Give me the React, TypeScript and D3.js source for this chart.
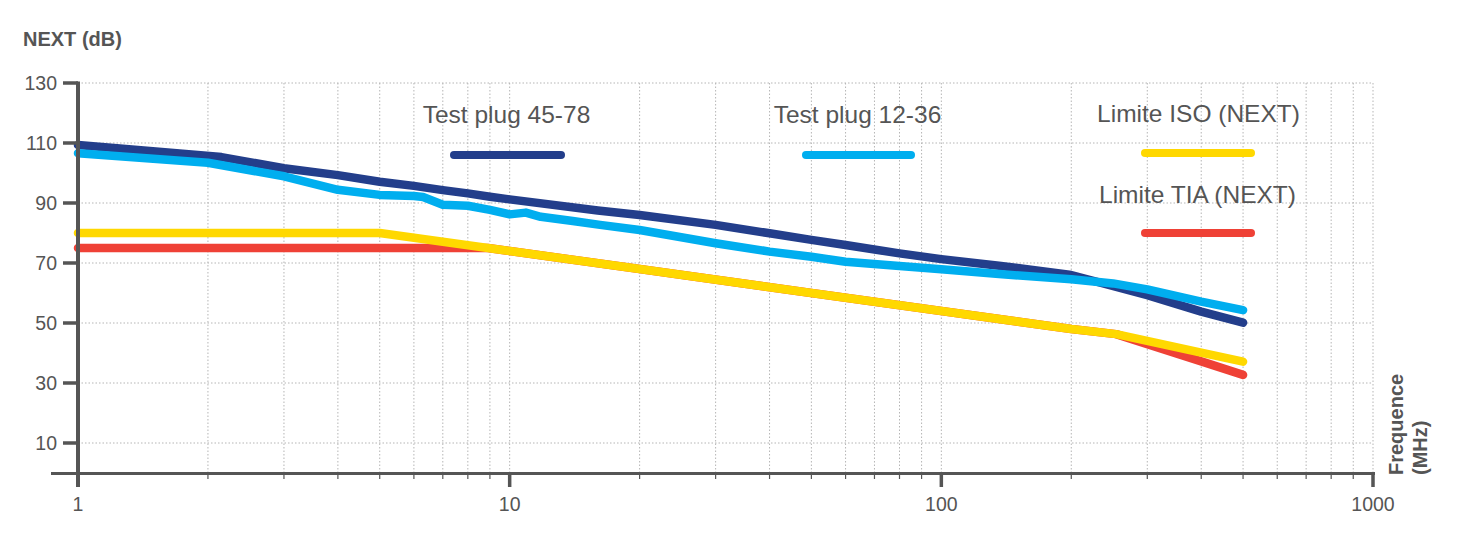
import React from "react";
import * as d3 from "d3";

const W = 1469;
const H = 533;

// Frequencies (MHz) and NEXT values (dB)
const plug4578F = [1, 2.15, 3, 4, 5, 6, 7, 8, 9, 10, 16, 20, 30, 40, 50, 60, 80, 100, 136, 200, 300, 400, 500];
const plug4578V = [109.3, 105.3, 101.6, 99.3, 97.1, 95.7, 94.3, 93.2, 92.1, 91.2, 87.5, 86, 82.7, 79.9, 77.7, 76, 73.2, 71.3, 69.1, 66, 59.3, 53.8, 50.1];

const plug1236F = [1, 2, 3, 4, 5, 6, 6.3, 7, 8, 9, 10, 10.9, 11.8, 14, 16.2, 20, 30, 40, 50, 60, 80, 100, 136, 200, 250, 300, 400, 500];
const plug1236V = [106.6, 103.4, 98.9, 94.4, 92.7, 92.3, 92, 89.4, 89.1, 87.7, 86.2, 86.8, 85.4, 84, 82.7, 81, 76.6, 73.8, 72.1, 70.4, 69, 67.9, 66.3, 64.6, 63.2, 61.2, 57.1, 54.3];

const isoF = [1, 5, 10, 20, 50, 100, 200, 254, 400, 500];
const isoV = [80, 80, 74, 68, 60, 54, 48, 46.3, 40.1, 37.1];

const tiaF = [1, 8.9, 10, 20, 50, 100, 200, 254, 400, 500];
const tiaV = [75, 75, 74, 68, 60, 54, 48, 46.3, 37.2, 32.7];

const yTicks = [10, 30, 50, 70, 90, 110, 130];
const xMajor = [1, 10, 100, 1000];
const xLabels = ["1", "10", "100", "1000"];

const legendNames = ["Test plug 45-78", "Test plug 12-36", "Limite ISO (NEXT)", "Limite TIA (NEXT)"];
const colors = { dark: "#233E8B", light: "#00AEEF", yellow: "#FFD800", red: "#EF4136" };

const x = d3.scaleLog().domain([1, 1000]).range([78, 1373]);
const y = d3.scaleLinear().domain([0, 130]).range([473, 83]);

const line = d3
  .line<[number, number]>()
  .x((d) => x(d[0]))
  .y((d) => y(d[1]))
  .curve(d3.curveLinear);

const zip = (f: number[], v: number[]) => f.map((ff, i) => [ff, v[i]] as [number, number]);

const minorTicks: number[] = [];
for (const dec of [1, 10, 100]) {
  for (let k = 2; k <= 9; k++) minorTicks.push(dec * k);
}

const font = "'Liberation Sans', Arial, Helvetica, sans-serif";
const textColor = "#555";

export default function App() {
  const series = [
    { d: zip(tiaF, tiaV), c: colors.red },
    { d: zip(isoF, isoV), c: colors.yellow },
    { d: zip(plug4578F, plug4578V), c: colors.dark },
    { d: zip(plug1236F, plug1236V), c: colors.light },
  ];
  const legend = [
    { name: legendNames[0], tx: 506.5, ty: 123, x1: 454, x2: 561, ly: 155, c: colors.dark },
    { name: legendNames[1], tx: 857.5, ty: 123, x1: 806, x2: 911, ly: 155, c: colors.light },
    { name: legendNames[2], tx: 1198.5, ty: 122, x1: 1145, x2: 1251, ly: 153, c: colors.yellow },
    { name: legendNames[3], tx: 1197.5, ty: 203, x1: 1145, x2: 1251, ly: 233, c: colors.red },
  ];
  return (
    <svg
      width={W}
      height={H}
      style={{ position: "absolute", left: 0, top: 0, background: "#fff" }}
      fontFamily={font}
    >
      {/* grid */}
      <g stroke="#b5b5b5" strokeWidth={1} strokeDasharray="1.5,2" fill="none">
        {yTicks.map((t) => (
          <line key={"h" + t} x1={x(1)} x2={x(1000)} y1={y(t)} y2={y(t)} />
        ))}
        {[...minorTicks, 10, 100, 1000].map((t) => (
          <line key={"v" + t} x1={x(t)} x2={x(t)} y1={y(130)} y2={y(0)} />
        ))}
      </g>

      {/* series */}
      {series.map((s, i) => (
        <path
          key={i}
          d={line(s.d) || ""}
          fill="none"
          stroke={s.c}
          strokeWidth={8.5}
          strokeLinecap="round"
          strokeLinejoin="round"
        />
      ))}

      {/* axes */}
      <g stroke="#555" fill="none">
        <line x1={51} x2={1375} y1={473.5} y2={473.5} strokeWidth={3} />
        <line x1={x(1)} x2={x(1)} y1={81.5} y2={487} strokeWidth={4} />
        {yTicks.map((t) => (
          <line key={"yt" + t} x1={63} x2={78} y1={y(t)} y2={y(t)} strokeWidth={3.5} />
        ))}
        {xMajor.slice(1).map((t) => (
          <line key={"xM" + t} x1={x(t)} x2={x(t)} y1={473} y2={487} strokeWidth={3.5} />
        ))}
        {minorTicks.map((t) => (
          <line key={"xm" + t} x1={x(t)} x2={x(t)} y1={473} y2={479} strokeWidth={1.2} />
        ))}
      </g>

      {/* tick labels */}
      <g fill={textColor} fontSize={19.5}>
        {yTicks.map((t) => (
          <text key={"yl" + t} x={57} y={y(t) + 7} textAnchor="end">
            {t}
          </text>
        ))}
        {xMajor.map((t, i) => (
          <text key={"xl" + t} x={x(t)} y={511} textAnchor="middle">
            {xLabels[i]}
          </text>
        ))}
      </g>

      {/* axis titles */}
      <text x={23} y={46} fontSize={20} fontWeight="bold" fill={textColor}>
        NEXT (dB)
      </text>
      <text transform="translate(1403,475) rotate(-90)" fontSize={20} fontWeight="bold" fill={textColor}>
        Frequence
      </text>
      <text transform="translate(1427,475) rotate(-90)" fontSize={20} fontWeight="bold" fill={textColor}>
        (MHz)
      </text>

      {/* legend */}
      {legend.map((l) => (
        <g key={l.name}>
          <text x={l.tx} y={l.ty} textAnchor="middle" fontSize={24.5} fill={textColor}>
            {l.name}
          </text>
          <line x1={l.x1} x2={l.x2} y1={l.ly} y2={l.ly} stroke={l.c} strokeWidth={8} strokeLinecap="round" />
        </g>
      ))}
    </svg>
  );
}
